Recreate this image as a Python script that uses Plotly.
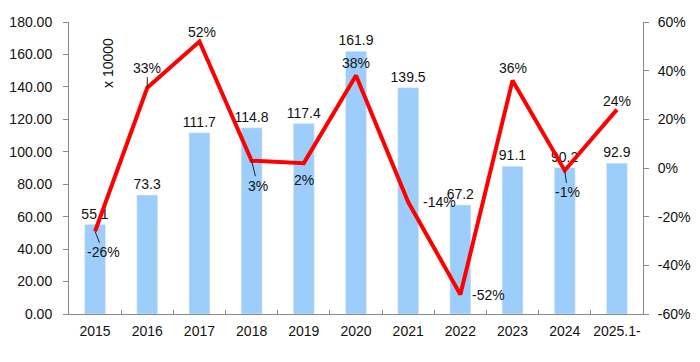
import plotly.graph_objects as go

years = ["2015", "2016", "2017", "2018", "2019", "2020", "2021", "2022", "2023", "2024", "2025.1-"]
sales = [55.1, 73.3, 111.7, 114.8, 117.4, 161.9, 139.5, 67.2, 91.1, 90.2, 92.9]
growth = [-26, 33, 52, 3, 2, 38, -14, -52, 36, -1, 24]
left_ticks = [0, 20, 40, 60, 80, 100, 120, 140, 160, 180]
right_ticks = [-60, -40, -20, 0, 20, 40, 60]

# label offsets for growth labels (dx, dy in px, leader line flag)
label_offsets = [(8, 21, True), (0, -20, True), (3, -9, False), (6, 25, True), (0, 17, False),
                 (0, -13, False), (31, 0, False), (28, 0, False), (0, -12, False), (3, 22, True), (0, -9, False)]

FONT = "Liberation Sans, Arial, sans-serif"
pos = list(range(len(years)))

fig = go.Figure()
fig.add_trace(go.Bar(
    x=pos, y=sales, marker_color="#9DCEFB", width=0.4,
    text=[f"{v:.1f}" for v in sales], textposition="outside", constraintext="none",
    textfont=dict(size=14, color="#111"), cliponaxis=False, yaxis="y",
))
fig.add_trace(go.Scatter(
    x=pos, y=growth, mode="lines", line=dict(color="#FF0000", width=4), yaxis="y2",
))

for p, g, (dx, dy, lead) in zip(pos, growth, label_offsets):
    if lead:
        fig.add_annotation(x=p, y=g, xref="x", yref="y2", text=f"{g}%", showarrow=True, arrowhead=0,
                           arrowwidth=1, arrowcolor="#222", ax=dx, ay=dy, standoff=0,
                           font=dict(size=14, color="#111", family=FONT))
    else:
        fig.add_annotation(x=p, y=g, xref="x", yref="y2", text=f"{g}%", showarrow=False,
                           xshift=dx, yshift=-dy, font=dict(size=14, color="#111", family=FONT))

fig.add_annotation(text="x 10000", xref="paper", yref="paper", x=0.068, y=0.86, textangle=-90,
                   xanchor="center", yanchor="middle",
                   showarrow=False, font=dict(size=14, color="#111", family=FONT))

fig.update_layout(
    width=700, height=362, margin=dict(l=61, r=65, t=14, b=56, autoexpand=False),
    paper_bgcolor="white", plot_bgcolor="white", showlegend=False,
    font=dict(family=FONT, size=14, color="#111"),
    xaxis=dict(range=[-0.5, len(years) - 0.5], tickvals=pos, ticktext=years, automargin=False,
               showline=True, linecolor="#888", linewidth=1, ticks="", showgrid=False,
               zeroline=False, tickfont=dict(size=14), ticklabelstandoff=4,
               minor=dict(tickvals=[p + 0.5 for p in pos[:-1]], ticks="inside", ticklen=4,
                          tickcolor="#888", showgrid=False)),
    yaxis=dict(range=[0, 180], tickvals=left_ticks, tickformat=".2f", showline=True, automargin=False,
               linecolor="#888", linewidth=1, ticks="outside", ticklen=5, tickcolor="#888",
               showgrid=False, zeroline=False, tickfont=dict(size=14), ticklabelstandoff=8),
    yaxis2=dict(range=[-60, 60], tickvals=right_ticks, ticktext=[f"{v}%" for v in right_ticks],
                overlaying="y", side="right", showline=True, linecolor="#888", linewidth=1,
                automargin=False,
                ticks="outside", ticklen=5, tickcolor="#888", showgrid=False, zeroline=False,
                tickfont=dict(size=14), ticklabelstandoff=6),
)

fig.write_html("out.html")
